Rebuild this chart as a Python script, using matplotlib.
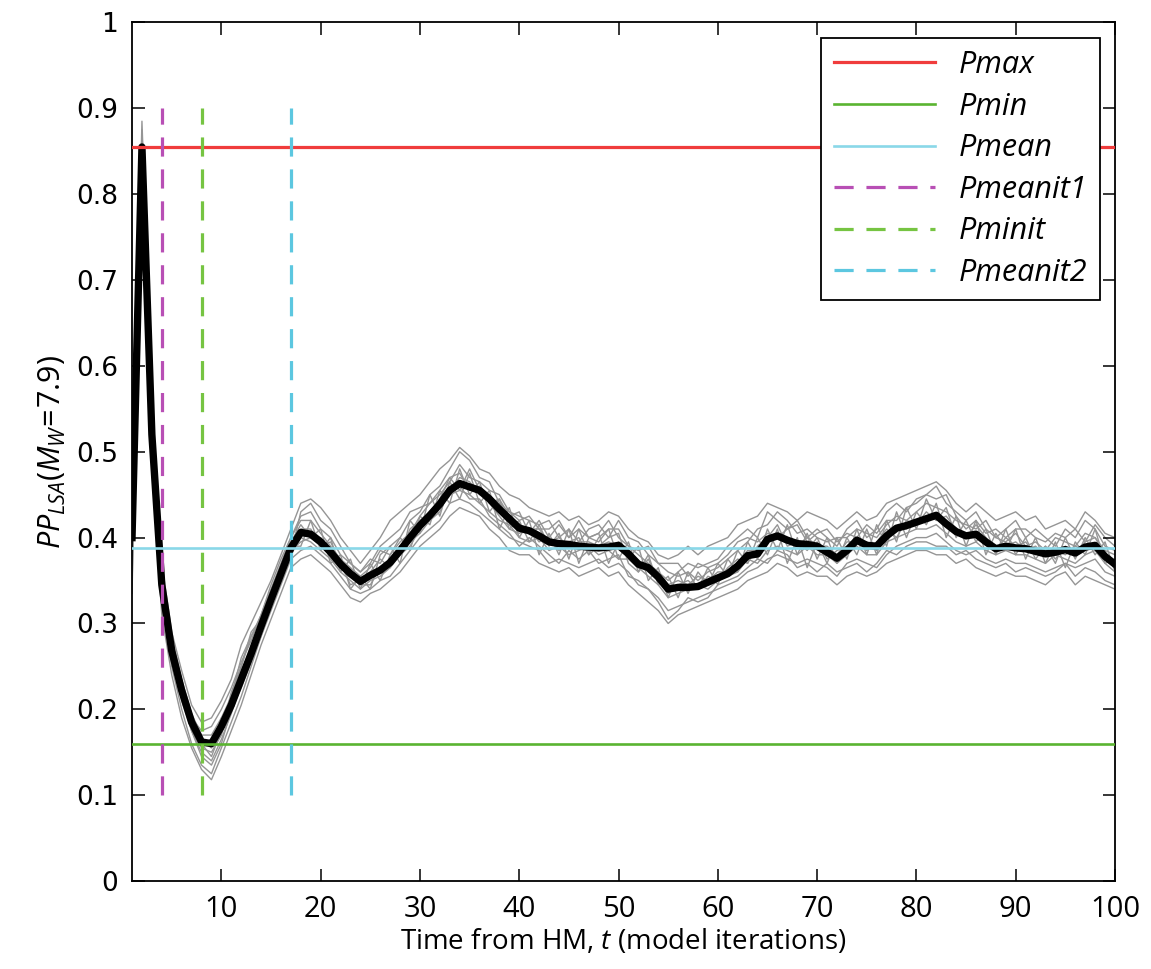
import numpy as np
import matplotlib
matplotlib.use("Agg")
import matplotlib.pyplot as plt

plt.rcParams['font.family'] = ['Open Sans', 'DejaVu Sans']
plt.rcParams['mathtext.fontset'] = 'custom'
plt.rcParams['mathtext.rm'] = 'Open Sans'
plt.rcParams['mathtext.it'] = 'Open Sans:italic'

# Model iterations
t = np.arange(1, 101)

# Ensemble mean (black line)
pp_mean = [
    0.40, 0.855, 0.52, 0.345, 0.268, 0.222, 0.185, 0.162, 0.160, 0.180,
    0.205, 0.235, 0.265, 0.297, 0.328, 0.358, 0.388, 0.406, 0.404, 0.395,
    0.383, 0.369, 0.358, 0.349, 0.356, 0.362, 0.371, 0.385, 0.400, 0.414,
    0.426, 0.439, 0.455, 0.463, 0.459, 0.455, 0.445, 0.433, 0.422, 0.411,
    0.408, 0.402, 0.395, 0.393, 0.392, 0.390, 0.389, 0.388, 0.389, 0.391,
    0.381, 0.369, 0.365, 0.354, 0.340, 0.342, 0.342, 0.343, 0.348, 0.353,
    0.358, 0.367, 0.379, 0.381, 0.398, 0.402, 0.397, 0.393, 0.392, 0.390,
    0.383, 0.376, 0.385, 0.397, 0.391, 0.390, 0.402, 0.411, 0.414, 0.418,
    0.422, 0.426, 0.416, 0.407, 0.402, 0.404, 0.395, 0.387, 0.390, 0.388,
    0.387, 0.384, 0.381, 0.383, 0.386, 0.382, 0.389, 0.391, 0.378, 0.369,
]

# Individual runs (grey lines)
run1 = [
    0.39, 0.885, 0.55, 0.36, 0.28, 0.23, 0.19, 0.175, 0.18, 0.20,
    0.225, 0.255, 0.28, 0.31, 0.34, 0.37, 0.40, 0.425, 0.43, 0.41,
    0.40, 0.38, 0.37, 0.36, 0.375, 0.37, 0.39, 0.40, 0.42, 0.43,
    0.45, 0.46, 0.48, 0.50, 0.49, 0.47, 0.465, 0.44, 0.43, 0.42,
    0.425, 0.41, 0.41, 0.42, 0.40, 0.41, 0.40, 0.405, 0.42, 0.40,
    0.39, 0.38, 0.37, 0.36, 0.35, 0.36, 0.37, 0.365, 0.37, 0.375,
    0.39, 0.40, 0.41, 0.40, 0.43, 0.42, 0.41, 0.42, 0.40, 0.41,
    0.40, 0.39, 0.41, 0.42, 0.40, 0.41, 0.43, 0.44, 0.43, 0.445,
    0.45, 0.46, 0.44, 0.43, 0.42, 0.43, 0.41, 0.40, 0.41, 0.42,
    0.40, 0.41, 0.40, 0.39, 0.41, 0.40, 0.42, 0.41, 0.39, 0.385,
]
run2 = [
    0.335, 0.84, 0.49, 0.32, 0.25, 0.20, 0.16, 0.135, 0.125, 0.155,
    0.185, 0.215, 0.25, 0.285, 0.315, 0.345, 0.375, 0.385, 0.39, 0.38,
    0.37, 0.355, 0.34, 0.335, 0.34, 0.35, 0.355, 0.37, 0.385, 0.40,
    0.41, 0.42, 0.44, 0.445, 0.44, 0.43, 0.42, 0.41, 0.40, 0.395,
    0.39, 0.385, 0.37, 0.375, 0.37, 0.365, 0.37, 0.375, 0.365, 0.37,
    0.36, 0.345, 0.34, 0.33, 0.315, 0.32, 0.325, 0.33, 0.335, 0.34,
    0.345, 0.35, 0.36, 0.365, 0.375, 0.38, 0.375, 0.37, 0.375, 0.37,
    0.365, 0.355, 0.37, 0.375, 0.37, 0.365, 0.38, 0.39, 0.395, 0.40,
    0.40, 0.405, 0.395, 0.385, 0.38, 0.385, 0.375, 0.37, 0.375, 0.37,
    0.37, 0.365, 0.36, 0.365, 0.37, 0.365, 0.37, 0.375, 0.36, 0.355,
]
run3 = [
    0.40, 0.87, 0.53, 0.35, 0.27, 0.225, 0.18, 0.155, 0.15, 0.17,
    0.21, 0.245, 0.27, 0.30, 0.33, 0.36, 0.39, 0.41, 0.41, 0.39,
    0.395, 0.37, 0.345, 0.35, 0.36, 0.375, 0.365, 0.38, 0.41, 0.42,
    0.43, 0.445, 0.47, 0.475, 0.455, 0.46, 0.44, 0.425, 0.41, 0.405,
    0.41, 0.395, 0.40, 0.385, 0.395, 0.40, 0.38, 0.39, 0.40, 0.405,
    0.37, 0.36, 0.375, 0.35, 0.335, 0.345, 0.35, 0.34, 0.355, 0.35,
    0.365, 0.375, 0.37, 0.39, 0.40, 0.415, 0.39, 0.395, 0.385, 0.40,
    0.375, 0.385, 0.39, 0.40, 0.385, 0.395, 0.41, 0.40, 0.42, 0.415,
    0.43, 0.42, 0.425, 0.41, 0.40, 0.415, 0.40, 0.385, 0.40, 0.39,
    0.395, 0.38, 0.39, 0.375, 0.39, 0.38, 0.395, 0.40, 0.38, 0.37,
]
run4 = [
    0.37, 0.86, 0.50, 0.335, 0.26, 0.21, 0.175, 0.15, 0.14, 0.165,
    0.195, 0.23, 0.26, 0.29, 0.32, 0.35, 0.38, 0.40, 0.395, 0.385,
    0.375, 0.36, 0.35, 0.34, 0.35, 0.355, 0.365, 0.39, 0.395, 0.405,
    0.42, 0.435, 0.45, 0.455, 0.45, 0.44, 0.43, 0.42, 0.415, 0.40,
    0.395, 0.40, 0.385, 0.39, 0.38, 0.385, 0.39, 0.38, 0.385, 0.375,
    0.375, 0.365, 0.355, 0.345, 0.33, 0.335, 0.34, 0.345, 0.34, 0.35,
    0.355, 0.36, 0.375, 0.37, 0.385, 0.39, 0.385, 0.38, 0.39, 0.38,
    0.38, 0.37, 0.38, 0.39, 0.38, 0.38, 0.395, 0.40, 0.405, 0.41,
    0.41, 0.415, 0.405, 0.395, 0.39, 0.395, 0.385, 0.38, 0.385, 0.38,
    0.38, 0.375, 0.37, 0.38, 0.375, 0.37, 0.38, 0.385, 0.37, 0.36,
]
run5 = [
    0.41, 0.855, 0.54, 0.365, 0.285, 0.235, 0.195, 0.17, 0.17, 0.19,
    0.215, 0.25, 0.285, 0.31, 0.345, 0.375, 0.40, 0.42, 0.42, 0.405,
    0.39, 0.375, 0.365, 0.355, 0.365, 0.385, 0.38, 0.395, 0.405, 0.425,
    0.44, 0.45, 0.465, 0.485, 0.47, 0.465, 0.455, 0.45, 0.43, 0.425,
    0.42, 0.415, 0.42, 0.40, 0.41, 0.395, 0.41, 0.415, 0.40, 0.42,
    0.40, 0.395, 0.38, 0.37, 0.36, 0.355, 0.36, 0.35, 0.36, 0.365,
    0.375, 0.385, 0.395, 0.41, 0.415, 0.43, 0.42, 0.405, 0.41, 0.40,
    0.395, 0.40, 0.40, 0.41, 0.405, 0.40, 0.415, 0.425, 0.42, 0.43,
    0.44, 0.435, 0.43, 0.42, 0.415, 0.41, 0.42, 0.40, 0.395, 0.405,
    0.39, 0.395, 0.385, 0.40, 0.395, 0.39, 0.405, 0.40, 0.385, 0.38,
]
run6 = [
    0.38, 0.845, 0.51, 0.34, 0.265, 0.215, 0.175, 0.145, 0.135, 0.16,
    0.20, 0.225, 0.255, 0.285, 0.32, 0.35, 0.385, 0.395, 0.40, 0.39,
    0.38, 0.365, 0.355, 0.345, 0.345, 0.365, 0.37, 0.38, 0.39, 0.41,
    0.42, 0.43, 0.455, 0.46, 0.445, 0.445, 0.425, 0.415, 0.405, 0.39,
    0.40, 0.39, 0.38, 0.37, 0.385, 0.375, 0.385, 0.37, 0.375, 0.38,
    0.355, 0.35, 0.34, 0.325, 0.305, 0.315, 0.33, 0.325, 0.33, 0.345,
    0.35, 0.355, 0.365, 0.375, 0.37, 0.385, 0.38, 0.365, 0.37, 0.36,
    0.37, 0.36, 0.365, 0.37, 0.36, 0.37, 0.385, 0.38, 0.39, 0.395,
    0.395, 0.39, 0.39, 0.38, 0.385, 0.375, 0.37, 0.365, 0.37, 0.36,
    0.365, 0.36, 0.355, 0.36, 0.37, 0.355, 0.365, 0.36, 0.35, 0.345,
]
run7 = [
    0.395, 0.865, 0.525, 0.35, 0.275, 0.225, 0.185, 0.16, 0.165, 0.185,
    0.21, 0.24, 0.27, 0.30, 0.335, 0.365, 0.395, 0.405, 0.40, 0.40,
    0.385, 0.375, 0.36, 0.345, 0.355, 0.36, 0.375, 0.39, 0.40, 0.41,
    0.425, 0.44, 0.455, 0.47, 0.465, 0.45, 0.45, 0.435, 0.42, 0.415,
    0.41, 0.41, 0.395, 0.40, 0.39, 0.395, 0.395, 0.39, 0.395, 0.39,
    0.385, 0.37, 0.36, 0.36, 0.345, 0.35, 0.345, 0.355, 0.35, 0.36,
    0.36, 0.37, 0.385, 0.385, 0.395, 0.40, 0.40, 0.39, 0.40, 0.39,
    0.39, 0.38, 0.395, 0.395, 0.395, 0.385, 0.40, 0.41, 0.41, 0.42,
    0.42, 0.425, 0.415, 0.405, 0.40, 0.40, 0.395, 0.39, 0.39, 0.395,
    0.385, 0.39, 0.38, 0.385, 0.38, 0.39, 0.385, 0.39, 0.375, 0.365,
]
run8 = [
    0.385, 0.875, 0.545, 0.355, 0.28, 0.23, 0.19, 0.165, 0.155, 0.175,
    0.215, 0.26, 0.285, 0.305, 0.33, 0.355, 0.38, 0.43, 0.44, 0.42,
    0.41, 0.39, 0.37, 0.36, 0.37, 0.39, 0.40, 0.41, 0.43, 0.435,
    0.44, 0.455, 0.47, 0.455, 0.48, 0.455, 0.44, 0.445, 0.425, 0.43,
    0.405, 0.42, 0.40, 0.415, 0.40, 0.42, 0.40, 0.395, 0.41, 0.41,
    0.39, 0.385, 0.39, 0.37, 0.37, 0.37, 0.355, 0.37, 0.365, 0.37,
    0.38, 0.395, 0.40, 0.395, 0.405, 0.40, 0.41, 0.415, 0.395, 0.405,
    0.41, 0.395, 0.405, 0.40, 0.415, 0.405, 0.42, 0.42, 0.435, 0.44,
    0.45, 0.445, 0.45, 0.425, 0.41, 0.42, 0.405, 0.41, 0.40, 0.41,
    0.41, 0.40, 0.395, 0.405, 0.40, 0.41, 0.395, 0.415, 0.40, 0.39,
]
run9 = [
    0.36, 0.85, 0.56, 0.37, 0.29, 0.245, 0.205, 0.185, 0.19, 0.21,
    0.235, 0.275, 0.30, 0.325, 0.35, 0.38, 0.41, 0.44, 0.445, 0.435,
    0.42, 0.40, 0.385, 0.37, 0.385, 0.40, 0.42, 0.43, 0.44, 0.45,
    0.465, 0.48, 0.49, 0.505, 0.495, 0.48, 0.475, 0.46, 0.45, 0.445,
    0.435, 0.43, 0.425, 0.43, 0.42, 0.425, 0.415, 0.42, 0.43, 0.425,
    0.41, 0.40, 0.395, 0.38, 0.375, 0.38, 0.39, 0.38, 0.39, 0.395,
    0.40, 0.415, 0.42, 0.425, 0.44, 0.435, 0.43, 0.42, 0.43, 0.425,
    0.42, 0.41, 0.42, 0.43, 0.42, 0.425, 0.44, 0.445, 0.45, 0.455,
    0.46, 0.465, 0.455, 0.44, 0.43, 0.44, 0.43, 0.42, 0.425, 0.43,
    0.42, 0.425, 0.41, 0.415, 0.42, 0.41, 0.43, 0.42, 0.405, 0.40,
]
run10 = [
    0.345, 0.83, 0.48, 0.31, 0.24, 0.19, 0.155, 0.13, 0.118, 0.145,
    0.175, 0.205, 0.24, 0.275, 0.305, 0.335, 0.365, 0.375, 0.38, 0.37,
    0.36, 0.345, 0.33, 0.325, 0.335, 0.34, 0.35, 0.36, 0.375, 0.39,
    0.40, 0.41, 0.425, 0.435, 0.43, 0.425, 0.41, 0.40, 0.385, 0.38,
    0.38, 0.37, 0.365, 0.36, 0.365, 0.355, 0.36, 0.365, 0.355, 0.36,
    0.345, 0.335, 0.325, 0.315, 0.30, 0.31, 0.315, 0.32, 0.325, 0.33,
    0.335, 0.34, 0.35, 0.355, 0.36, 0.37, 0.365, 0.355, 0.36, 0.355,
    0.355, 0.345, 0.355, 0.36, 0.355, 0.36, 0.37, 0.375, 0.38, 0.385,
    0.385, 0.38, 0.38, 0.37, 0.375, 0.365, 0.36, 0.355, 0.36, 0.355,
    0.355, 0.35, 0.345, 0.355, 0.36, 0.345, 0.355, 0.35, 0.345, 0.34,
]
run11 = [
    0.39, 0.86, 0.535, 0.34, 0.27, 0.22, 0.18, 0.16, 0.145, 0.175,
    0.22, 0.25, 0.29, 0.305, 0.325, 0.36, 0.395, 0.415, 0.40, 0.41,
    0.37, 0.38, 0.34, 0.355, 0.34, 0.38, 0.39, 0.37, 0.42, 0.405,
    0.45, 0.425, 0.465, 0.445, 0.475, 0.44, 0.455, 0.41, 0.435, 0.40,
    0.42, 0.38, 0.405, 0.38, 0.41, 0.37, 0.40, 0.405, 0.37, 0.395,
    0.375, 0.39, 0.35, 0.365, 0.33, 0.36, 0.335, 0.36, 0.345, 0.37,
    0.355, 0.385, 0.37, 0.40, 0.38, 0.41, 0.37, 0.40, 0.365, 0.395,
    0.37, 0.40, 0.375, 0.41, 0.38, 0.415, 0.39, 0.43, 0.40, 0.43,
    0.415, 0.44, 0.40, 0.425, 0.39, 0.42, 0.38, 0.405, 0.385, 0.41,
    0.375, 0.40, 0.37, 0.395, 0.365, 0.395, 0.38, 0.41, 0.37, 0.375,
]
run12 = [
    0.40, 0.85, 0.505, 0.35, 0.28, 0.215, 0.19, 0.165, 0.16, 0.19,
    0.20, 0.24, 0.26, 0.295, 0.335, 0.35, 0.39, 0.39, 0.42, 0.385,
    0.40, 0.36, 0.375, 0.34, 0.37, 0.35, 0.38, 0.40, 0.385, 0.425,
    0.415, 0.455, 0.44, 0.48, 0.45, 0.465, 0.43, 0.445, 0.41, 0.42,
    0.395, 0.415, 0.39, 0.405, 0.375, 0.41, 0.38, 0.40, 0.41, 0.375,
    0.395, 0.36, 0.38, 0.345, 0.355, 0.33, 0.36, 0.34, 0.365, 0.345,
    0.375, 0.36, 0.395, 0.375, 0.41, 0.385, 0.415, 0.38, 0.405, 0.375,
    0.40, 0.37, 0.40, 0.38, 0.41, 0.38, 0.42, 0.395, 0.435, 0.41,
    0.445, 0.42, 0.435, 0.40, 0.42, 0.395, 0.41, 0.38, 0.41, 0.38,
    0.40, 0.375, 0.39, 0.37, 0.40, 0.375, 0.40, 0.38, 0.395, 0.36,
]
runs = [run1, run2, run3, run4, run5, run6, run7, run8,
        run9, run10, run11, run12]

# Reference levels and iterations
p_max = 0.855
p_min = 0.16
p_mean = 0.388
it_mean1 = 4
it_min = 8
it_mean2 = 17

fig = plt.figure(figsize=(11.51, 9.69), dpi=100)
ax = fig.add_axes([0.1147, 0.0908, 0.854, 0.886])

for r in runs:
    ax.plot(t, r, color='#959595', lw=1.0, zorder=1)
ax.plot(t, pp_mean, color='black', lw=5.3, zorder=2, solid_joinstyle='round')

ax.axhline(p_max, color='#f03c3c', lw=2.3, zorder=3, label='Pmax')
ax.axhline(p_min, color='#5ab431', lw=1.9, zorder=3, label='Pmin')
ax.axhline(p_mean, color='#8ad8e8', lw=1.9, zorder=3, label='Pmean')
dash = (0, (6, 4))
ax.plot([it_mean1, it_mean1], [0.1, 0.9], color='#b84fb5', lw=2.3,
        ls=dash, zorder=3, label='Pmeanit1')
ax.plot([it_min, it_min], [0.1, 0.9], color='#76c442', lw=2.3,
        ls=dash, zorder=3, label='Pminit')
ax.plot([it_mean2, it_mean2], [0.1, 0.9], color='#5cc7e0', lw=2.3,
        ls=dash, zorder=3, label='Pmeanit2')

ax.set_xlim(1, 100)
ax.set_ylim(0, 1)
ax.set_xticks(np.arange(10, 101, 10))
ax.set_yticks(np.arange(0, 1.01, 0.1))
ax.set_yticklabels(['0', '0.1', '0.2', '0.3', '0.4', '0.5', '0.6', '0.7',
                    '0.8', '0.9', '1'], family='DejaVu Sans')
ax.tick_params(direction='in', length=9, width=1.1, top=True, right=True,
               labelsize=19, pad=10)
for lab in ax.get_xticklabels():
    lab.set_fontsize(21)
for s in ax.spines.values():
    s.set_linewidth(1.3)

ax.set_xlabel('Time from HM, $\\mathit{t}$ (model iterations)', fontsize=20,
              labelpad=2)
ax.set_ylabel('$\\mathit{PP_{LSA}(M_W\\!=\\!7.9)}$', fontsize=22, labelpad=6)

leg = ax.legend(loc='upper right', handlelength=3.3, frameon=True,
                fancybox=False, framealpha=1, borderaxespad=0.5,
                labelspacing=0.38, handletextpad=0.8, borderpad=0.4,
                prop={'style': 'italic', 'size': 22})
leg.get_frame().set_edgecolor('black')
leg.get_frame().set_linewidth(1.3)

plt.savefig('out.png', dpi=100)
